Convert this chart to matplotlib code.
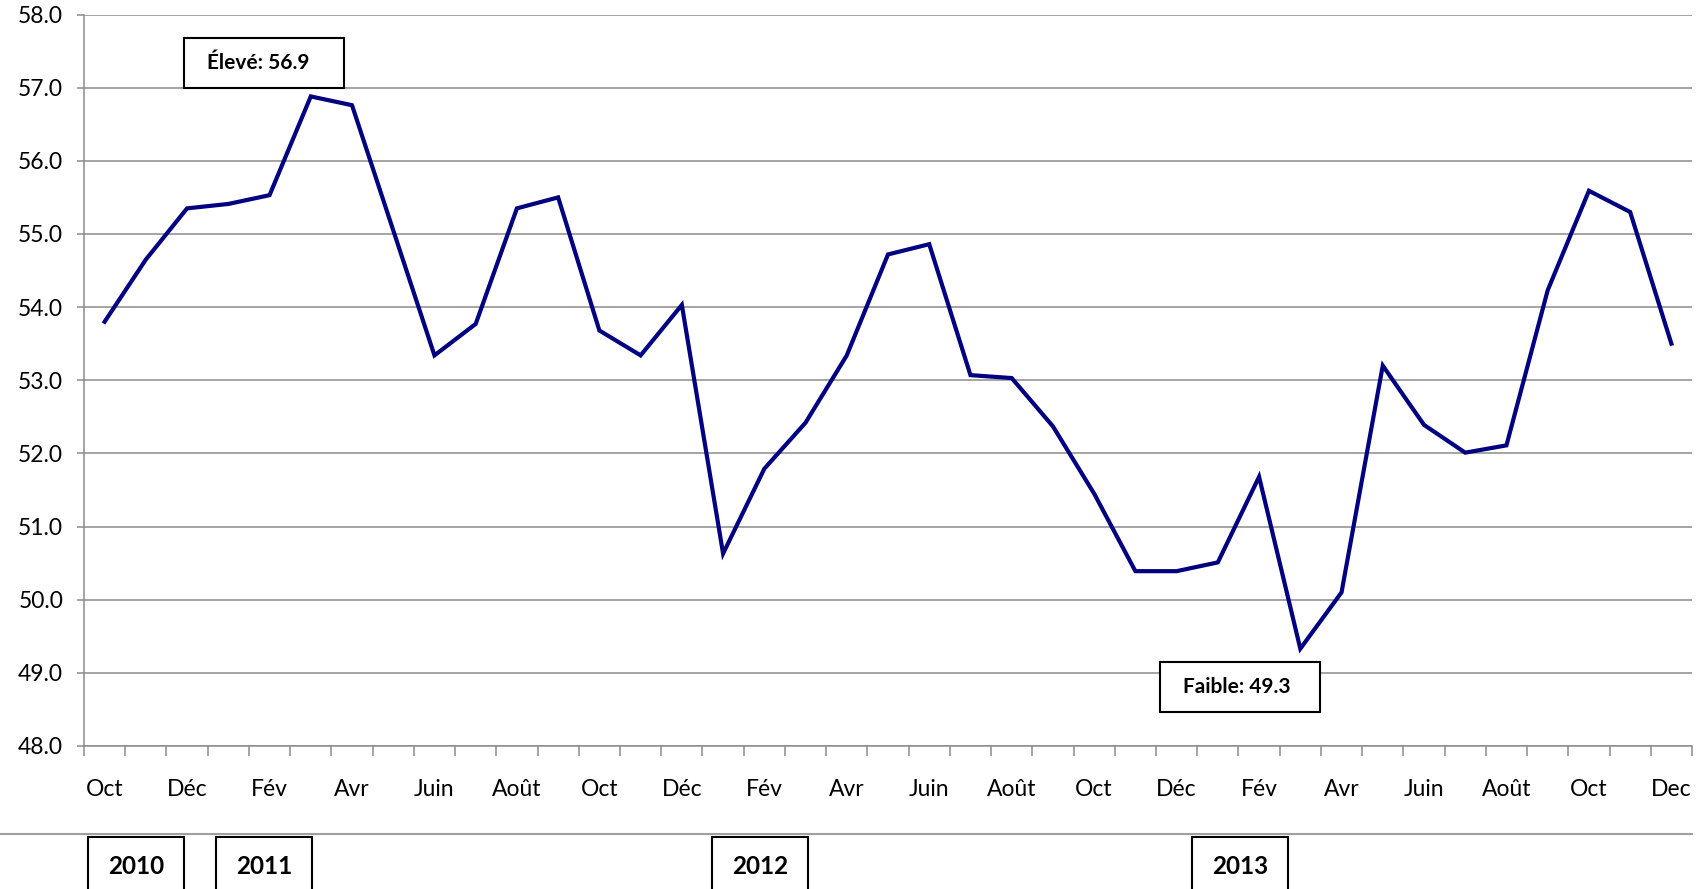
import numpy as np
import matplotlib.pyplot as plt
from matplotlib.patches import Rectangle

# monthly index values, Oct 2010 -> Dec 2013
values = [53.80, 54.65, 55.35,
          55.41, 55.53, 56.88, 56.76, 55.05, 53.34, 53.77, 55.35, 55.50, 53.68, 53.34, 54.03,
          50.63, 51.79, 52.42, 53.34, 54.72, 54.86, 53.07, 53.03, 52.37, 51.45, 50.39, 50.39,
          50.51, 51.68, 49.33, 50.10, 53.20, 52.39, 52.01, 52.11, 54.23, 55.59, 55.30, 53.50]
month_labels = ['Oct', 'Déc', 'Fév', 'Avr', 'Juin', 'Août', 'Oct', 'Déc', 'Fév', 'Avr',
                'Juin', 'Août', 'Oct', 'Déc', 'Fév', 'Avr', 'Juin', 'Août', 'Oct', 'Dec']
years = ['2010', '2011', '2012', '2013']
high_text = 'Élevé: 56.9'
low_text = 'Faible: 49.3'

W, H = 1704, 889
plt.rcParams['font.family'] = ['Lato', 'DejaVu Sans']

fig = plt.figure(figsize=(W / 100, H / 100), dpi=100)
ax = fig.add_axes([84 / W, 1 - 746 / H, (1692 - 84) / W, (746 - 14.5) / H])

x = np.arange(len(values))
ax.plot(x, values, color='#000080', lw=3.0, solid_joinstyle='miter', zorder=3)

ax.set_xlim(-0.5, len(values) - 0.5)
ax.set_ylim(48, 58)
ax.set_yticks(np.arange(48, 58.1, 1))
ax.set_yticklabels([f'{v:.1f}' for v in np.arange(48, 58.1, 1)], fontsize=16.5)
ax.grid(axis='y', color='#8c8c8c', lw=1.1)
ax.set_axisbelow(True)

ax.set_xticks(x[::2])
ax.set_xticklabels(month_labels, fontsize=16.5)
ax.set_xticks(np.arange(-0.5, len(values), 1), minor=True)
ax.tick_params(axis='x', which='major', length=0, pad=24)
ax.tick_params(axis='x', which='minor', length=7, color='#8c8c8c', width=1.1)
ax.tick_params(axis='y', length=5, color='#8c8c8c', width=1.1, pad=10)

for s in ['top', 'right']:
    ax.spines[s].set_visible(False)
for s in ['left', 'bottom']:
    ax.spines[s].set_color('#8c8c8c')
    ax.spines[s].set_linewidth(1.1)


def box(x0, y0, x1, y1, text, size, tx=None, ty=None):
    # box given in pixel coords from the top-left corner
    fig.add_artist(Rectangle((x0 / W, 1 - y1 / H), (x1 - x0) / W, (y1 - y0) / H,
                             transform=fig.transFigure, facecolor='white',
                             edgecolor='black', lw=1.5, zorder=5))
    cx = (x0 + x1) / 2 if tx is None else tx
    cy = (y0 + y1) / 2 if ty is None else ty
    fig.text(cx / W, 1 - cy / H, text, fontsize=size, fontweight='bold',
             ha='center', va='center', zorder=6)


box(184, 38, 344, 88, high_text, 15, tx=258)
box(1160, 662, 1320, 712, low_text, 15, tx=1237)

# separator line above the year boxes
fig.add_artist(plt.Line2D([0, 1692 / W], [1 - 834 / H] * 2, transform=fig.transFigure,
                          color='#a0a0a0', lw=1.5))
year_boxes = [(88, 184), (216, 312), (712, 808), (1192, 1288)]
for (x0, x1), yr in zip(year_boxes, years):
    box(x0, 837, x1, 900, yr, 17.5, ty=866)

fig.savefig('out.png', dpi=100)
